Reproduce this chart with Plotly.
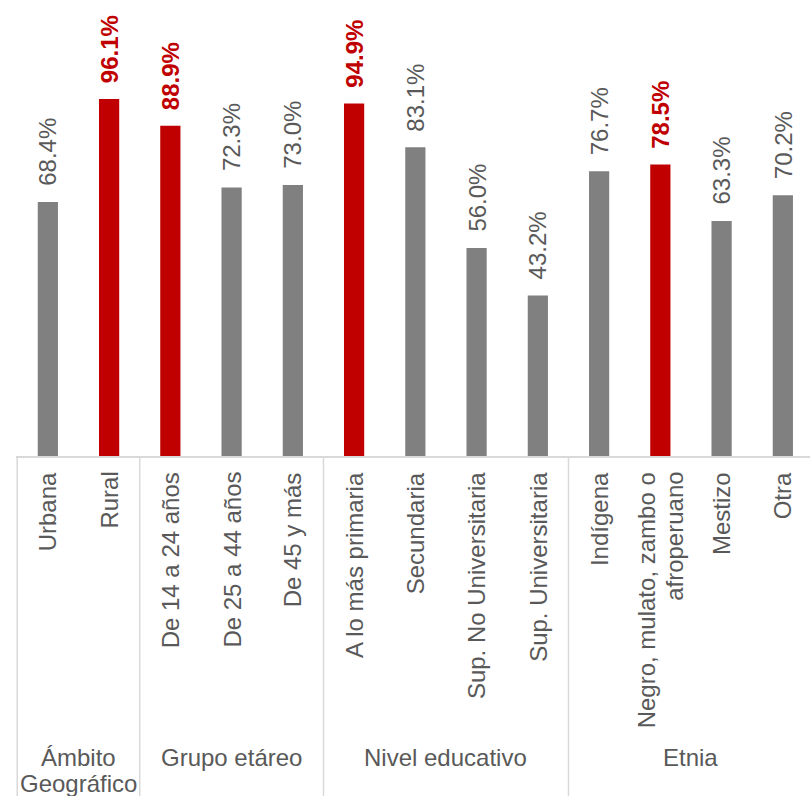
import plotly.graph_objects as go

categories = ["Urbana", "Rural", "De 14 a 24 años", "De 25 a 44 años", "De 45 y más",
              "A lo más primaria", "Secundaria", "Sup. No Universitaria", "Sup. Universitaria",
              "Indígena", "Negro, mulato, zambo o afroperuano", "Mestizo", "Otra"]
tick_lines = [["Urbana"], ["Rural"], ["De 14 a 24 años"], ["De 25 a 44 años"], ["De 45 y más"],
              ["A lo más primaria"], ["Secundaria"], ["Sup. No Universitaria"], ["Sup. Universitaria"],
              ["Indígena"], ["Negro, mulato, zambo o", "afroperuano"], ["Mestizo"], ["Otra"]]
values = [68.4, 96.1, 88.9, 72.3, 73.0, 94.9, 83.1, 56.0, 43.2, 76.7, 78.5, 63.3, 70.2]
highlight = [0, 1, 1, 0, 0, 1, 0, 0, 0, 0, 1, 0, 0]
groups = [["Ámbito", "Geográfico"], ["Grupo etáreo"], ["Nivel educativo"], ["Etnia"]]
group_sizes = [2, 3, 4, 4]

GRAY = "#808080"
RED = "#C00000"
TXT = "#595959"
FONT = "Liberation Sans, Arial, sans-serif"
LINE = "#D9D9D9"

fig = go.Figure()
fig.add_trace(go.Bar(
    x=categories, y=values, width=0.33,
    marker=dict(color=[RED if h else GRAY for h in highlight], line=dict(width=0)),
    hoverinfo="skip",
))

ann = []
for c, v, h in zip(categories, values, highlight):
    txt = f"{v:.1f}%"
    ann.append(dict(x=c, y=v, xref="x", yref="y", text=f"<b>{txt}</b>" if h else txt,
                    textangle=-90, showarrow=False, xanchor="center", yanchor="bottom",
                    yshift=14, font=dict(family=FONT, size=24, color=RED if h else TXT)))

for i, lines in enumerate(tick_lines):
    n = len(lines)
    for j, ln in enumerate(lines):
        off = (j - (n - 1) / 2) * 28
        ann.append(dict(x=i, y=0, xref="x", yref="paper", text=ln, textangle=-90,
                        showarrow=False, xanchor="center", yanchor="top", yshift=-14,
                        xshift=off, font=dict(family=FONT, size=24, color=TXT)))

shapes = []
start = -0.5
bottom = -340 / 456
for g, s in zip(groups, group_sizes):
    center = start + s / 2
    for j, ln in enumerate(g):
        ann.append(dict(x=center, y=0, xref="x", yref="paper", text=ln, showarrow=False,
                        xanchor="center", yanchor="middle", yshift=-301 - 26 * j,
                        font=dict(family=FONT, size=24, color=TXT)))
    shapes.append(dict(type="line", xref="x", yref="paper", x0=start, x1=start,
                       y0=0, y1=bottom, line=dict(color=LINE, width=1.5)))
    start += s
shapes.append(dict(type="line", xref="x", yref="paper", x0=start, x1=start,
                   y0=0, y1=bottom, line=dict(color=LINE, width=1.5)))

fig.update_layout(
    width=810, height=796,
    margin=dict(l=16, r=0, t=0, b=340),
    plot_bgcolor="white", paper_bgcolor="white",
    showlegend=False,
    annotations=ann, shapes=shapes,
    xaxis=dict(type="category", range=[-0.52, -0.52 + 794 / 61.25], showticklabels=False,
               showgrid=False, zeroline=False, showline=True, linecolor=LINE, linewidth=1.5,
               ticks="", fixedrange=True),
    yaxis=dict(visible=False, range=[0, 456 / 3.714], showgrid=False, zeroline=False,
               fixedrange=True),
)

fig.write_html("out.html", config={"displayModeBar": False, "staticPlot": True},
               post_script="document.body.style.margin='0';document.body.style.overflow='hidden';")
